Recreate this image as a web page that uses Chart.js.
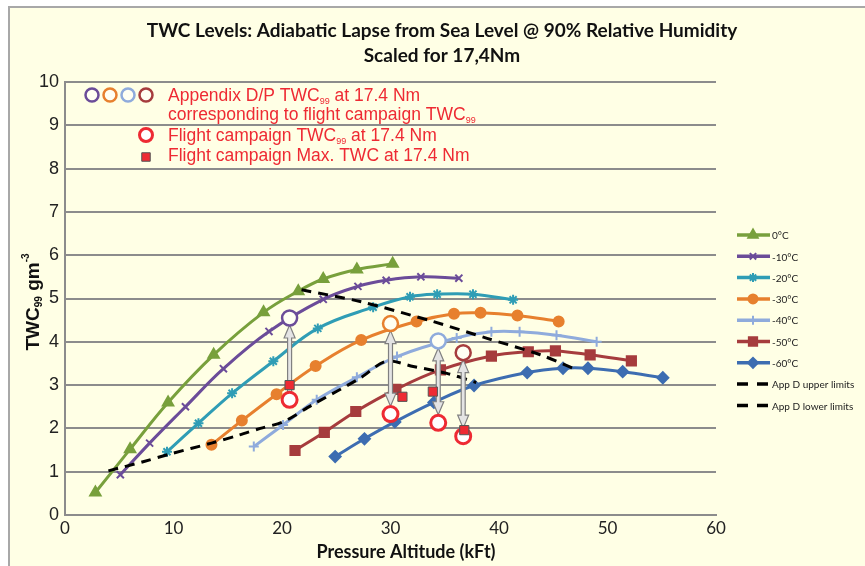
<!DOCTYPE html>
<html>
<head>
<meta charset="utf-8">
<script src="https://cdn.jsdelivr.net/npm/chart.js@4.4.1/dist/chart.umd.min.js"></script>
<style>
    html, body { margin: 0; padding: 0; background: #ffffff; width: 865px; height: 566px; overflow: hidden; }
    #frame { position: absolute; left: 8px; top: 6px; width: 900px; height: 600px; border: 2px solid #a8a8a8; background: #ffffe5; }
    #wrap { position: absolute; left: 0; top: 0; width: 865px; height: 566px; }
</style>
</head>
<body>
<div id="frame"></div>
<div id="wrap"><canvas id="twcChart" width="865" height="566"></canvas></div>
<script>
// --- data (altitude in kFt, TWC in g/m3) ---
const seriesLabels = ['0°C', '-10°C', '-20°C', '-30°C', '-40°C', '-50°C', '-60°C'];

const alt0 = [2.8, 6.0, 9.5, 13.7, 18.3, 21.5, 23.8, 26.9, 30.2];
const twc0 = [0.52, 1.52, 2.6, 3.7, 4.68, 5.17, 5.45, 5.67, 5.8];

const altM10 = [5.1, 7.8, 11.1, 14.6, 18.8, 23.8, 27.0, 29.6, 32.8, 36.3];
const twcM10 = [0.93, 1.66, 2.5, 3.38, 4.24, 4.98, 5.28, 5.42, 5.5, 5.47];

const altM20 = [9.4, 12.3, 15.4, 19.2, 23.3, 28.4, 31.8, 34.3, 37.6, 41.3];
const twcM20 = [1.46, 2.12, 2.81, 3.55, 4.31, 4.8, 5.04, 5.1, 5.1, 4.97];

const altM30 = [13.5, 16.3, 19.5, 23.1, 27.3, 32.4, 35.85, 38.3, 41.7, 45.5];
const twcM30 = [1.62, 2.18, 2.79, 3.44, 4.04, 4.47, 4.65, 4.67, 4.61, 4.47];

const altM40 = [17.4, 20.1, 23.2, 26.9, 30.6, 36.1, 39.3, 41.9, 45.3, 49.0];
const twcM40 = [1.58, 2.08, 2.66, 3.18, 3.66, 4.09, 4.23, 4.23, 4.15, 4.0];

const altM50 = [21.2, 23.9, 26.8, 30.5, 34.6, 39.3, 42.7, 45.2, 48.4, 52.2];
const twcM50 = [1.49, 1.91, 2.39, 2.9, 3.35, 3.67, 3.77, 3.79, 3.7, 3.56];

const altM60 = [24.9, 27.6, 30.4, 34.0, 37.7, 42.6, 45.9, 48.2, 51.4, 55.1];
const twcM60 = [1.35, 1.76, 2.15, 2.6, 2.99, 3.29, 3.39, 3.39, 3.31, 3.17];

const altUpper = [21.8, 27.2, 33.9, 38.9, 43.8, 46.8];
const twcUpper = [5.2, 4.93, 4.47, 4.08, 3.7, 3.39];

const altLower = [4.0, 7.2, 9.7, 13.5, 16.1, 18.0, 20.1, 22.9, 27.2, 29.6, 32.1, 35.2, 37.9];
const twcLower = [1.02, 1.23, 1.41, 1.66, 1.85, 2.0, 2.15, 2.56, 3.16, 3.55, 3.43, 3.27, 3.06];

// Appendix D/P TWC99 (hollow coloured circles), flight campaign TWC99 and max TWC
const dpAlt = [20.7, 30.0, 34.4, 36.7];
const dpTwc = [4.55, 4.42, 4.02, 3.75];
const fcAlt = [20.7, 30.0, 34.4, 36.7];
const fcTwc = [2.66, 2.33, 2.13, 1.82];
const maxAlt = [20.7, 31.1, 33.9, 36.8];
const maxTwc = [3.0, 2.73, 2.85, 1.96];

const xTicks = [0, 10, 20, 30, 40, 50, 60];
const yTicks = [0, 1, 2, 3, 4, 5, 6, 7, 8, 9, 10];

// --- styles ---
const seriesColors = ['#78a03c', '#6b4c99', '#2f9db5', '#e7802e', '#8fabdc', '#a63c3d', '#3d6db1'];
const seriesMarkers = ['triangle', 'crossRot', 'star', 'circle', 'cross', 'rect', 'rectRot'];
const seriesRadius = [6, 5, 5, 5, 5, 6.5, 5.5];
const dpColors = ['#6b4c99', '#e7802e', '#8fabdc', '#a63c3d'];
const RED = '#ee2a33';

function toPoints(xs, ys) {
    return xs.map((x, i) => ({ x: x, y: ys[i] }));
}

const seriesAlt = [alt0, altM10, altM20, altM30, altM40, altM50, altM60];
const seriesTwc = [twc0, twcM10, twcM20, twcM30, twcM40, twcM50, twcM60];

const datasets = [
    {   // 0: flight campaign max TWC
        label: 'Flight campaign Max. TWC',
        data: toPoints(maxAlt, maxTwc),
        showLine: false,
        pointStyle: 'rect',
        pointRadius: 6.5,
        pointBackgroundColor: RED,
        pointBorderColor: '#555555',
        pointBorderWidth: 1
    },
    {   // 1: flight campaign TWC99
        label: 'Flight campaign TWC99',
        data: toPoints(fcAlt, fcTwc),
        showLine: false,
        pointStyle: 'circle',
        pointRadius: 7.5,
        pointBackgroundColor: '#ffffff',
        pointBorderColor: RED,
        pointBorderWidth: 3
    },
    {   // 2: appendix D/P circles
        label: 'Appendix D/P TWC99',
        data: toPoints(dpAlt, dpTwc),
        showLine: false,
        pointStyle: 'circle',
        pointRadius: 7.5,
        pointBackgroundColor: '#fffff2',
        pointBorderColor: dpColors,
        pointBorderWidth: 2.5
    },
    {   // 3: App D upper limits
        label: 'App D upper limits',
        data: toPoints(altUpper, twcUpper),
        showLine: true,
        borderColor: '#000000',
        borderWidth: 3,
        borderDash: [10, 7],
        pointRadius: 0,
        tension: 0.3
    },
    {   // 4: App D lower limits
        label: 'App D lower limits',
        data: toPoints(altLower, twcLower),
        showLine: true,
        borderColor: '#000000',
        borderWidth: 3,
        borderDash: [10, 7],
        pointRadius: 0,
        tension: 0.3
    }
];

seriesLabels.forEach((lbl, i) => {
    datasets.push({
        label: lbl,
        data: toPoints(seriesAlt[i], seriesTwc[i]),
        showLine: true,
        borderColor: seriesColors[i],
        backgroundColor: seriesColors[i],
        borderWidth: 3,
        tension: 0.4,
        pointStyle: seriesMarkers[i],
        pointRadius: seriesRadius[i],
        pointBorderWidth: 2,
        pointBackgroundColor: seriesColors[i],
        pointBorderColor: seriesColors[i]
    });
});

// side legend order: the seven series then the two limit lines
const legendOrder = [5, 6, 7, 8, 9, 10, 11, 3, 4];

// draws a run of text pieces, each {t, font, dy}; returns total width
function drawRich(ctx, parts, x, y, measureOnly) {
    let w = 0;
    parts.forEach(p => {
        ctx.font = p.font;
        if (!measureOnly) ctx.fillText(p.t, x + w, y + (p.dy || 0));
        w += ctx.measureText(p.t).width;
    });
    return w;
}

// grey block arrow, heads optional at each end
function drawArrow(ctx, x, yTop, yBot, headBottom) {
    const hw = 5.5, hl = 13, sw = 2;
    const y1 = yTop + hl, y2 = headBottom ? yBot - hl : yBot;
    ctx.save();
    ctx.fillStyle = '#e4e4e4';
    ctx.strokeStyle = '#808080';
    ctx.lineWidth = 1.2;
    ctx.beginPath();
    ctx.moveTo(x, yTop);
    ctx.lineTo(x + hw, y1);
    ctx.lineTo(x + sw, y1);
    ctx.lineTo(x + sw, y2);
    if (headBottom) {
        ctx.lineTo(x + hw, y2);
        ctx.lineTo(x, yBot);
        ctx.lineTo(x - hw, y2);
    }
    ctx.lineTo(x - sw, y2);
    ctx.lineTo(x - sw, y1);
    ctx.lineTo(x - hw, y1);
    ctx.closePath();
    ctx.fill();
    ctx.stroke();
    ctx.restore();
}

const decorPlugin = {
    id: 'decor',
    afterDatasetDraw(chart, args) {
        // arrows sit above the curves but under the marker datasets
        if (args.index !== 3) return;
        const xs = chart.scales.x, ys = chart.scales.y, ctx = chart.ctx;
        dpAlt.forEach((a, i) => {
            const px = xs.getPixelForValue(a);
            const top = ys.getPixelForValue(dpTwc[i]) + 7;
            const bot = ys.getPixelForValue(fcTwc[i]) - 8;
            // first arrow only points up (its lower end hides under the square)
            drawArrow(ctx, px, top, bot, i > 0);
        });
    },
    afterDraw(chart) {
        const ctx = chart.ctx;
        ctx.save();
        ctx.textBaseline = 'alphabetic';
        ctx.fillStyle = '#111111';

        // main title
        ctx.textAlign = 'center';
        ctx.font = 'bold 19px Lato';
        ctx.fillText('TWC Levels: Adiabatic Lapse from Sea Level @ 90% Relative Humidity', 442, 37);
        ctx.fillText('Scaled for 17,4Nm', 442, 62);

        // x axis title
        ctx.font = 'bold 18px Lato';
        ctx.fillText('Pressure Altitude (kFt)', 406, 558);

        // y axis title with subscript and superscript
        ctx.textAlign = 'left';
        const yParts = [
            { t: 'TWC', font: 'bold 19px "Liberation Sans"' },
            { t: '99', font: 'bold 10px "Liberation Sans"', dy: 3 },
            { t: ' gm', font: 'bold 19px "Liberation Sans"' },
            { t: '-3', font: 'bold 10px "Liberation Sans"', dy: -10 }
        ];
        const yw = drawRich(ctx, yParts, 0, 0, true);
        ctx.save();
        ctx.translate(39, 302);
        ctx.rotate(-Math.PI / 2);
        drawRich(ctx, yParts, -yw / 2, 0);
        ctx.restore();

        // red annotation block, top left of the plot
        const h = Chart.helpers;
        dpColors.forEach((c, i) => {
            ctx.strokeStyle = c;
            ctx.fillStyle = '#fffff2';
            ctx.lineWidth = 2.5;
            h.drawPoint(ctx, { pointStyle: 'circle', radius: 6.5, borderWidth: 2.5 }, 92 + i * 18, 95);
        });
        ctx.strokeStyle = RED;
        ctx.fillStyle = '#ffffff';
        ctx.lineWidth = 3;
        h.drawPoint(ctx, { pointStyle: 'circle', radius: 6.5, borderWidth: 3 }, 146, 135);
        ctx.fillStyle = RED;
        ctx.strokeStyle = '#555555';
        ctx.lineWidth = 1;
        h.drawPoint(ctx, { pointStyle: 'rect', radius: 6, borderWidth: 1 }, 146, 157);

        ctx.fillStyle = RED;
        const big = '17.5px "Liberation Sans"', sub = '9px "Liberation Sans"';
        drawRich(ctx, [{ t: 'Appendix D/P TWC', font: big }, { t: '99', font: sub, dy: 3 }, { t: ' at 17.4 Nm', font: big }], 168, 101);
        drawRich(ctx, [{ t: 'corresponding to flight campaign TWC', font: big }, { t: '99', font: sub, dy: 3 }], 168, 120);
        drawRich(ctx, [{ t: 'Flight campaign TWC', font: big }, { t: '99', font: sub, dy: 3 }, { t: ' at 17.4 Nm', font: big }], 168, 141);
        drawRich(ctx, [{ t: 'Flight campaign Max. TWC at 17.4 Nm', font: big }], 168, 161);

        // side legend
        ctx.font = '10px Lato';
        ctx.textBaseline = 'middle';
        legendOrder.forEach((di, row) => {
            const ds = chart.data.datasets[di];
            const y = 235 + row * 21.3;
            ctx.strokeStyle = ds.borderColor;
            ctx.lineWidth = 3.5;
            ctx.beginPath();
            if (ds.borderDash) {
                ctx.moveTo(737, y); ctx.lineTo(748, y);
                ctx.moveTo(757, y); ctx.lineTo(768, y);
            } else {
                ctx.moveTo(737, y); ctx.lineTo(770, y);
            }
            ctx.stroke();
            if (ds.pointRadius) {
                ctx.fillStyle = ds.pointBackgroundColor;
                ctx.lineWidth = 2;
                h.drawPoint(ctx, { pointStyle: ds.pointStyle, radius: ds.pointRadius * 0.9, borderWidth: 2 }, 753, y);
            }
            ctx.fillStyle = '#222222';
            ctx.fillText(ds.label, 772, y + 1);
        });
        ctx.restore();
    }
};

new Chart(document.getElementById('twcChart'), {
    type: 'scatter',
    data: { datasets: datasets },
    plugins: [decorPlugin],
    options: {
        responsive: false,
        animation: false,
        layout: { padding: { top: 82, right: 149, left: 0, bottom: 0 } },
        plugins: {
            legend: { display: false },
            title: { display: false },
            tooltip: { enabled: false }
        },
        scales: {
            x: {
                type: 'linear',
                min: 0,
                max: 60,
                afterFit: (scale) => { scale.height = 51; },
                afterBuildTicks: (scale) => { scale.ticks = xTicks.map(v => ({ value: v })); },
                ticks: { color: '#222222', font: { family: 'Lato', size: 17 }, padding: 3, maxRotation: 0 },
                grid: { display: false, drawTicks: false },
                border: { color: '#8c8c8c', width: 2 }
            },
            y: {
                type: 'linear',
                min: 0,
                max: 10,
                afterFit: (scale) => { scale.width = 65; },
                afterBuildTicks: (scale) => { scale.ticks = yTicks.map(v => ({ value: v })); },
                ticks: { color: '#222222', font: { family: 'Liberation Sans', size: 18 }, padding: 6 },
                grid: { color: '#8c8c8c', lineWidth: 2, drawTicks: false },
                border: { color: '#8c8c8c', width: 2 }
            }
        }
    }
});
</script>
</body>
</html>
